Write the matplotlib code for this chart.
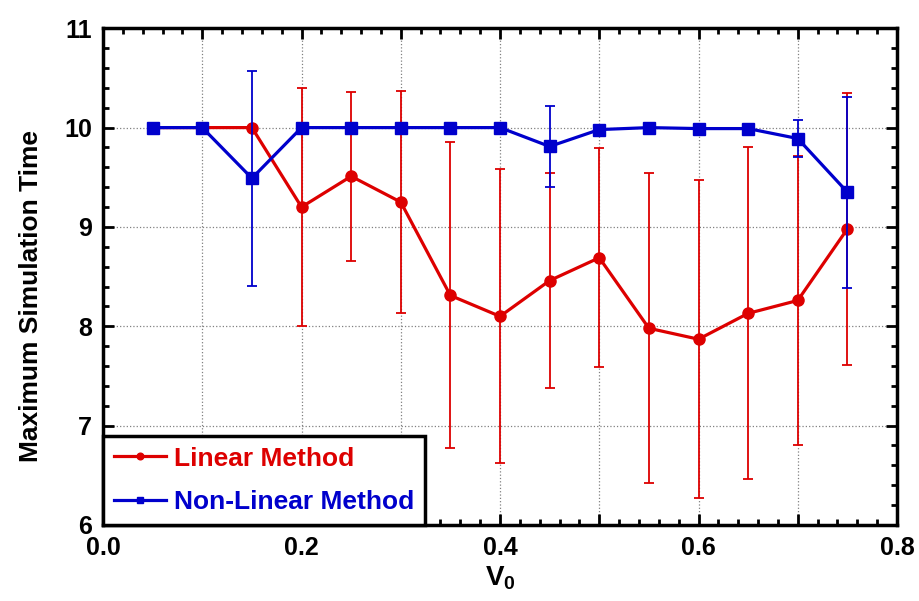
import matplotlib.pyplot as plt
from matplotlib.ticker import MultipleLocator, FuncFormatter

plt.rcParams.update({
    "font.family": "Liberation Sans",
    "font.weight": "bold",
    "axes.labelweight": "bold",
    "mathtext.default": "regular",
})

# data
v0 = [0.05, 0.10, 0.15, 0.20, 0.25, 0.30, 0.35, 0.40, 0.45, 0.50, 0.55, 0.60, 0.65, 0.70, 0.75]

lin_t = [10.0, 10.0, 10.0, 9.20, 9.51, 9.25, 8.31, 8.10, 8.46, 8.69, 7.98, 7.87, 8.13, 8.26, 8.98]
lin_err = [0.0, 0.0, 0.0, 1.20, 0.85, 1.12, 1.54, 1.48, 1.08, 1.10, 1.56, 1.60, 1.67, 1.45, 1.37]

nl_t = [10.0, 10.0, 9.49, 10.0, 10.0, 10.0, 10.0, 10.0, 9.81, 9.98, 10.0, 9.99, 9.99, 9.89, 9.35]
nl_err = [0.0, 0.0, 1.08, 0.0, 0.0, 0.0, 0.0, 0.0, 0.41, 0.0, 0.0, 0.0, 0.0, 0.19, 0.96]

red = "#dd0000"
blue = "#0000cc"
fs = 18

fig = plt.figure(figsize=(9.2, 6.01), dpi=100)
ax = fig.add_axes([0.112, 0.1265, 0.863, 0.8265])

e1 = ax.errorbar(v0, lin_t, yerr=lin_err, color=red, marker="o", markersize=8, lw=2.3,
                 elinewidth=1.3, capsize=3.5, capthick=1.3, zorder=3)
e2 = ax.errorbar(v0, nl_t, yerr=nl_err, color=blue, marker="s", markersize=8, lw=2.3,
                 elinewidth=1.3, capsize=3.5, capthick=1.3, zorder=4)

ax.set_xlim(0, 0.8)
ax.set_ylim(6, 11)
ax.xaxis.set_major_locator(MultipleLocator(0.1))
ax.xaxis.set_minor_locator(MultipleLocator(0.02))
ax.yaxis.set_major_locator(MultipleLocator(1))
ax.yaxis.set_minor_locator(MultipleLocator(0.2))
ax.xaxis.set_major_formatter(FuncFormatter(
    lambda t, pos: f"{t:.1f}" if round(t * 10) % 2 == 0 else ""))
ax.tick_params(which="both", direction="in", top=True, right=True, width=2)
ax.tick_params(which="major", length=8, labelsize=fs, pad=8)
ax.tick_params(which="minor", length=4)
for s in ax.spines.values():
    s.set_linewidth(2.5)

ax.grid(True, which="major", color="gray", linestyle=":", lw=0.9)

ax.set_xlabel(r"V$_0$", fontsize=20, labelpad=3)
ax.set_ylabel("Maximum Simulation Time", fontsize=19)
ax.yaxis.set_label_coords(-0.075, 0.46)

leg = ax.legend([e1.lines[0], e2.lines[0]], ["Linear Method", "Non-Linear Method"],
                loc="lower left", borderaxespad=0, prop={"weight": "bold", "size": 19},
                markerscale=0.6, fancybox=False, framealpha=1, edgecolor="black",
                handlelength=2.0, handletextpad=0.3, labelspacing=0.75, borderpad=0.4)
leg.get_frame().set_linewidth(2.5)
for txt, c in zip(leg.get_texts(), [red, blue]):
    txt.set_color(c)

fig.savefig("out.png", dpi=100)
